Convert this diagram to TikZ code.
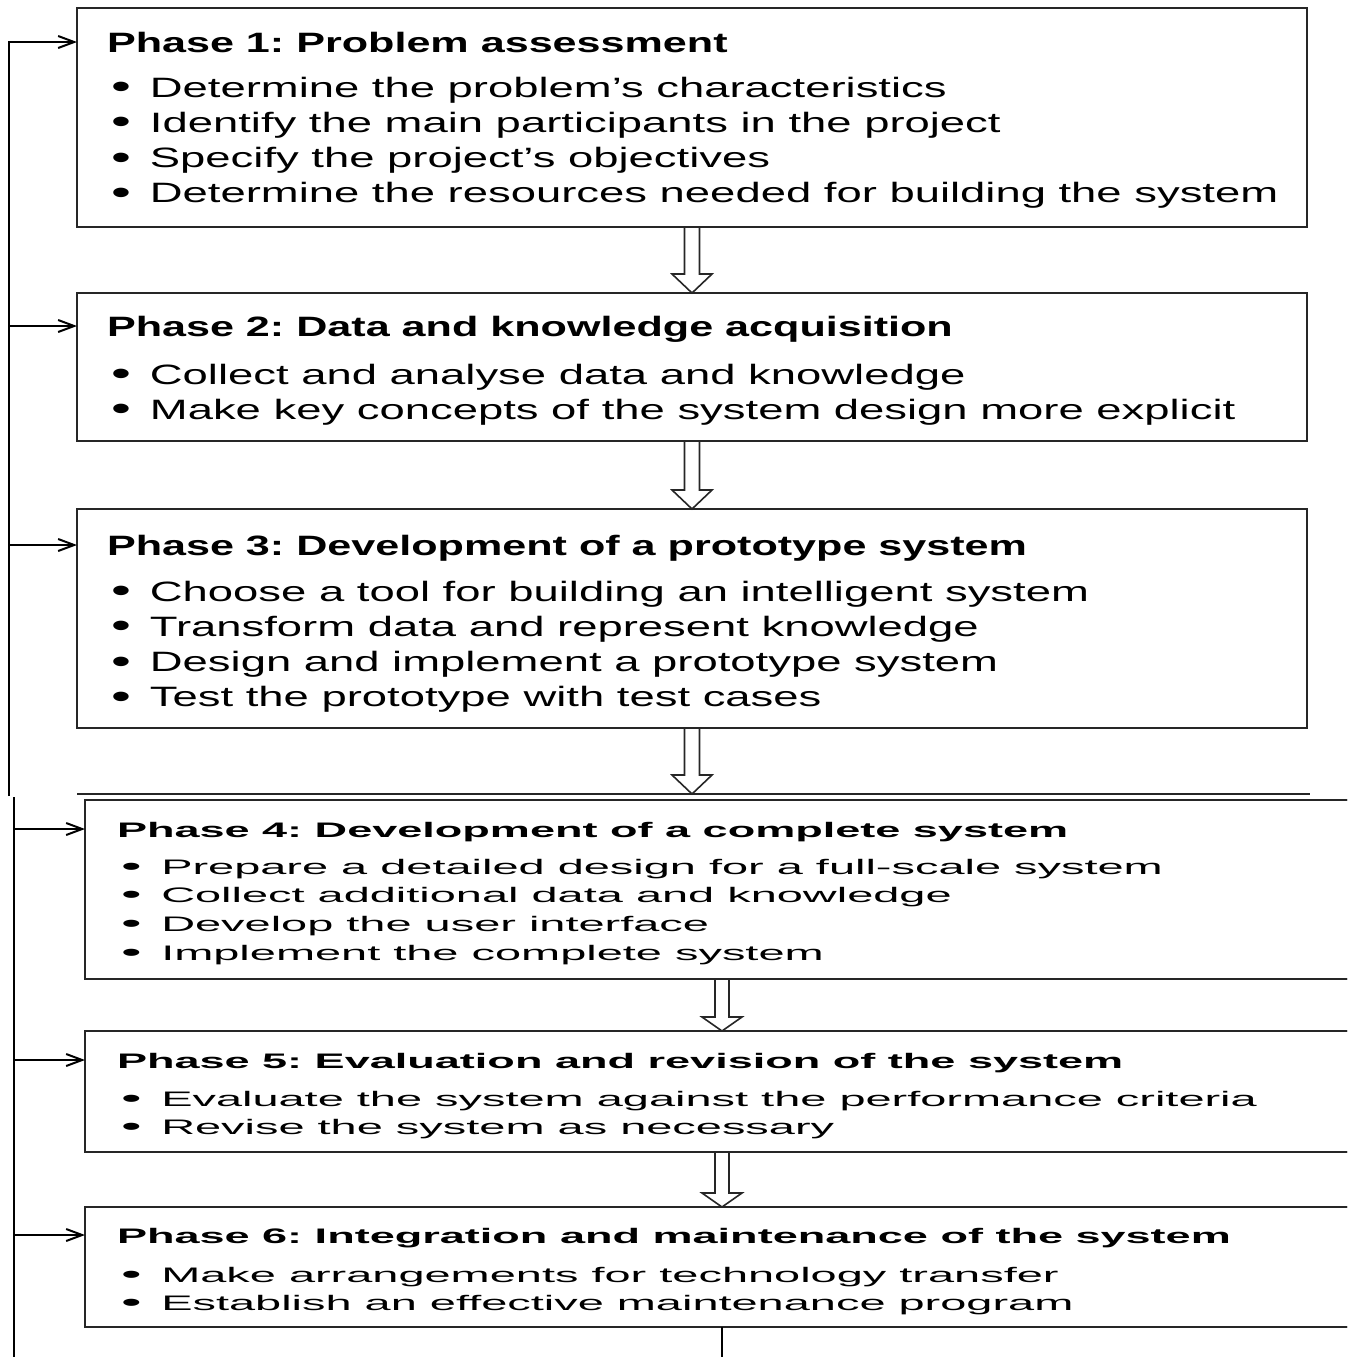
\documentclass[tikz,border=0pt]{standalone}
\usepackage{fontspec}
\setmainfont{Liberation Sans}
\usepackage{graphicx}
\usetikzlibrary{arrows.meta}
\tikzset{
  box/.style={draw=black!85, line width=2pt, outer sep=0pt, inner sep=0pt},
  upbox/.style={box, minimum width=1230pt},
  lowbox/.style={box, minimum width=1274pt},
  txt/.style={anchor=base west, inner sep=0pt, outer sep=0pt},
  harrow/.style={draw=black!85, line width=1.6pt, fill=white, line join=miter},
  feed/.style={draw=black, line width=2pt},
  feedarrow/.style={feed, line join=miter, arrows={-Straight Barb[length=16pt,width=12pt,line width=2pt]}},
}
\frenchspacing
\newcommand\phHead[1]{\scalebox{1.54}[1]{\fontsize{28}{34}\selectfont\bfseries\frenchspacing #1}}
\newcommand\phBody[1]{\scalebox{1.622}[1]{\fontsize{28}{35.3}\selectfont\frenchspacing\begin{tabular}[t]{@{}l@{}}#1\end{tabular}}}
\newcommand\lwHead[1]{\scalebox{2.145}[1]{\fontsize{21}{26}\selectfont\bfseries\frenchspacing #1}}
\newcommand\lwBody[1]{\scalebox{2.235}[1]{\fontsize{21}{28.7}\selectfont\frenchspacing\begin{tabular}[t]{@{}l@{}}#1\end{tabular}}}
\newcommand\bul{\raisebox{-0.05em}{\scalebox{1.25}{\textbullet}}\hspace{0.42em}}
\begin{document}
\begin{tikzpicture}[x=1pt,y=-1pt]
\useasboundingbox (0,0) rectangle (1347,1357);
\clip (0,0) rectangle (1347,1357);
\fill[white] (0,0) rectangle (1347,1357);

% seam of the upper and lower parts
\coordinate (sL) at (77,794);
\coordinate (sR) at (1310,794);
\coordinate (s3) at (692,794);

% boxes
\node[upbox, minimum height=219pt] (b1) at (692,117.5) {};
\node[upbox, minimum height=148pt] (b2) at (692,367) {};
\node[upbox, minimum height=219pt] (b3) at (692,618.5) {};
\node[lowbox, minimum height=179pt] (b4) at (722,889.5) {};
\node[lowbox, minimum height=121pt] (b5) at (722,1091.5) {};
\node[lowbox, minimum height=120pt] (b6) at (722,1267) {};

% hollow arrows
\draw[harrow] ([xshift=-7.5pt]b1.south) -- ([xshift=-7.5pt,yshift=19pt]b2.north) -- ([xshift=-20pt,yshift=19pt]b2.north) -- (b2.north) -- ([xshift=20pt,yshift=19pt]b2.north) -- ([xshift=7.5pt,yshift=19pt]b2.north) -- ([xshift=7.5pt]b1.south);
\draw[harrow] ([xshift=-7.5pt]b2.south) -- ([xshift=-7.5pt,yshift=19pt]b3.north) -- ([xshift=-20pt,yshift=19pt]b3.north) -- (b3.north) -- ([xshift=20pt,yshift=19pt]b3.north) -- ([xshift=7.5pt,yshift=19pt]b3.north) -- ([xshift=7.5pt]b2.south);
\draw[harrow] ([xshift=-7.5pt]b3.south) -- ([xshift=-7.5pt,yshift=19pt]s3) -- ([xshift=-20pt,yshift=19pt]s3) -- (s3) -- ([xshift=20pt,yshift=19pt]s3) -- ([xshift=7.5pt,yshift=19pt]s3) -- ([xshift=7.5pt]b3.south);
\draw[harrow] ([xshift=-7pt]b4.south) -- ([xshift=-7pt,yshift=14pt]b5.north) -- ([xshift=-20pt,yshift=14pt]b5.north) -- (b5.north) -- ([xshift=20pt,yshift=14pt]b5.north) -- ([xshift=7pt,yshift=14pt]b5.north) -- ([xshift=7pt]b4.south);
\draw[harrow] ([xshift=-7pt]b5.south) -- ([xshift=-7pt,yshift=14pt]b6.north) -- ([xshift=-20pt,yshift=14pt]b6.north) -- (b6.north) -- ([xshift=20pt,yshift=14pt]b6.north) -- ([xshift=7pt,yshift=14pt]b6.north) -- ([xshift=7pt]b5.south);

% redraw box outlines over arrow fills
\draw[box] (b1.south west) rectangle (b1.north east);
\draw[box] (b2.south west) rectangle (b2.north east);
\draw[box] (b3.south west) rectangle (b3.north east);
\draw[box] (b4.south west) rectangle (b4.north east);
\draw[box] (b5.south west) rectangle (b5.north east);
\draw[box] (b6.south west) rectangle (b6.north east);
\draw[box] (sL) -- (sR);

% texts
\node[txt] (h1) at (107,52) {\phHead{Phase 1: Problem assessment}};
\node[txt] (t1) at (111,97) {\phBody{\bul Determine the problem's characteristics\\
\bul Identify the main participants in the project\\
\bul Specify the project's objectives\\
\bul Determine the resources needed for building the system}};

\node[txt] (h2) at (107,336) {\phHead{Phase 2: Data and knowledge acquisition}};
\node[txt] (t2) at (111,384) {\phBody{\bul Collect and analyse data and knowledge\\
\bul Make key concepts of the system design more explicit}};

\node[txt] (h3) at (107,555) {\phHead{Phase 3: Development of a prototype system}};
\node[txt] (t3) at (111,601) {\phBody{\bul Choose a tool for building an intelligent system\\
\bul Transform data and represent knowledge\\
\bul Design and implement a prototype system\\
\bul Test the prototype with test cases}};

\node[txt] (h4) at (117,837) {\lwHead{Phase 4: Development of a complete system}};
\node[txt] (t4) at (121,874) {\lwBody{\bul Prepare a detailed design for a full-scale system\\
\bul Collect additional data and knowledge\\
\bul Develop the user interface\\
\bul Implement the complete system}};

\node[txt] (h5) at (117,1068) {\lwHead{Phase 5: Evaluation and revision of the system}};
\node[txt] (t5) at (121,1106) {\lwBody{\bul Evaluate the system against the performance criteria\\
\bul Revise the system as necessary}};

\node[txt] (h6) at (117,1243) {\lwHead{Phase 6: Integration and maintenance of the system}};
\node[txt] (t6) at (121,1282) {\lwBody{\bul Make arrangements for technology transfer\\
\bul Establish an effective maintenance program}};

% feedback spine
\coordinate (u0) at (9,42);
\coordinate (u1) at (9,796);
\coordinate (a2) at (9,326);
\coordinate (a3) at (9,545);
\coordinate (l0) at (14,797);
\coordinate (l1) at (14,1362);
\coordinate (a4) at (14,829);
\coordinate (a5) at (14,1060);
\coordinate (a6) at (14,1235);
\draw[feedarrow] (u1) -- (u0) -- (u0 -| b1.west);
\draw[feedarrow] (a2) -- (a2 -| b2.west);
\draw[feedarrow] (a3) -- (a3 -| b3.west);
\draw[feed] (l0) -- (l1);
\draw[feedarrow] (a4) -- (a4 -| b4.west);
\draw[feedarrow] (a5) -- (a5 -| b5.west);
\draw[feedarrow] (a6) -- (a6 -| b6.west);
\coordinate (e6) at (722,1362);
\draw[feed] (b6.south) -- (e6);
\end{tikzpicture}
\end{document}
